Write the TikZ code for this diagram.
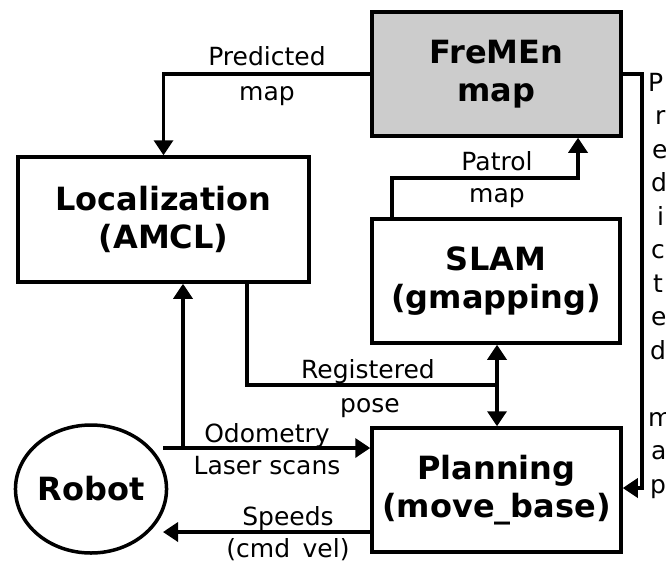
\documentclass[tikz,border=0pt]{standalone}
\usepackage{fontspec}
\setmainfont{DejaVu Sans}
\usetikzlibrary{arrows.meta,shapes.geometric}
\definecolor{boxgray}{RGB}{204,204,204}
\begin{document}
\begin{tikzpicture}[x=1pt,y=-1pt,
  box/.style={draw, line width=3.5pt, rectangle, inner sep=0pt, align=center,
    font=\fontsize{32}{38}\selectfont\bfseries},
  arr/.style={line width=3.5pt, -{Triangle[length=15pt,width=19pt]}},
  wire/.style={line width=3.5pt},
  lbl/.style={anchor=base, inner sep=0pt, font=\fontsize{25}{30}\selectfont},
  side/.style={anchor=base west, inner sep=0pt, font=\fontsize{25}{30}\selectfont}]
\useasboundingbox (0,0) rectangle (666,560);

% boxes
\node[box, fill=boxgray, minimum width=249pt, minimum height=124pt] (fremen) at (496.5,74) {FreMEn\\map};
\node[box, minimum width=291pt, minimum height=125pt] (loc) at (163.5,219.5) {Localization\\(AMCL)};
\node[box, minimum width=248pt, minimum height=124pt] (slam) at (496,281) {SLAM\\(gmapping)};
\node[box, minimum width=249pt, minimum height=124pt] (plan) at (496.5,490) {Planning\\(move\_base)};
\node[box, ellipse, minimum width=148pt, minimum height=128pt] (robot) at (91,489) {Robot};

% helper coordinates
\coordinate (pa) at (392,178);
\coordinate (pb) at (578,178);
\coordinate (ra) at (247,385);
\coordinate (rb) at (497,385);
\coordinate (oa) at (163,448);
\coordinate (ob) at (183,448);
\coordinate (sa) at (163,532);
\coordinate (qa) at (642,488);

% connectors
\draw[arr] (fremen.west) -| (loc.north);
\draw[arr] (slam.north -| pa) -- (pa) -- (pb) -- (fremen.south -| pb);
\draw[arr] (loc.south -| ra) -- (ra) -- (rb) -- (plan.north -| rb);
\draw[arr] (rb) -- (slam.south -| rb);
\draw[arr] (oa) -- (plan.west |- oa);
\draw[arr] (ob) -- (loc.south -| ob);
\draw[arr] (plan.west |- sa) -- (sa);
\draw[arr] (fremen.east) -| (qa) -- (plan.east |- qa);

% labels
\node[lbl] (l1) at (267,65) {Predicted};
\node[lbl] (l2) at (267,100) {map};
\node[lbl] (l3) at (497,170) {Patrol};
\node[lbl] (l4) at (497,202) {map};
\node[lbl] (l5) at (368,378) {Registered};
\node[lbl] (l6) at (370,412) {pose};
\node[lbl] (l7) at (267,442) {Odometry};
\node[lbl] (l8) at (267,474) {Laser scans};
\node[lbl] (l9) at (288,525) {Speeds};
\node[lbl] (l10) at (288,557) {(cmd\_vel)};

% right-hand text column (cut off at the picture's edge)
\node[side] (c1) at (648,91) {P};
\node[side] (c2) at (655,124.5) {r};
\node[side] (c3) at (652,158) {e};
\node[side] (c4) at (651,191.5) {d};
\node[side] (c5) at (657,225) {i};
\node[side] (c6) at (651,258.5) {c};
\node[side] (c7) at (653,292) {t};
\node[side] (c8) at (651,325.5) {e};
\node[side] (c9) at (650,359) {d};
\node[side] (c10) at (648,426) {m};
\node[side] (c11) at (651,459.5) {a};
\node[side] (c12) at (650,493) {p};
\end{tikzpicture}
\end{document}
